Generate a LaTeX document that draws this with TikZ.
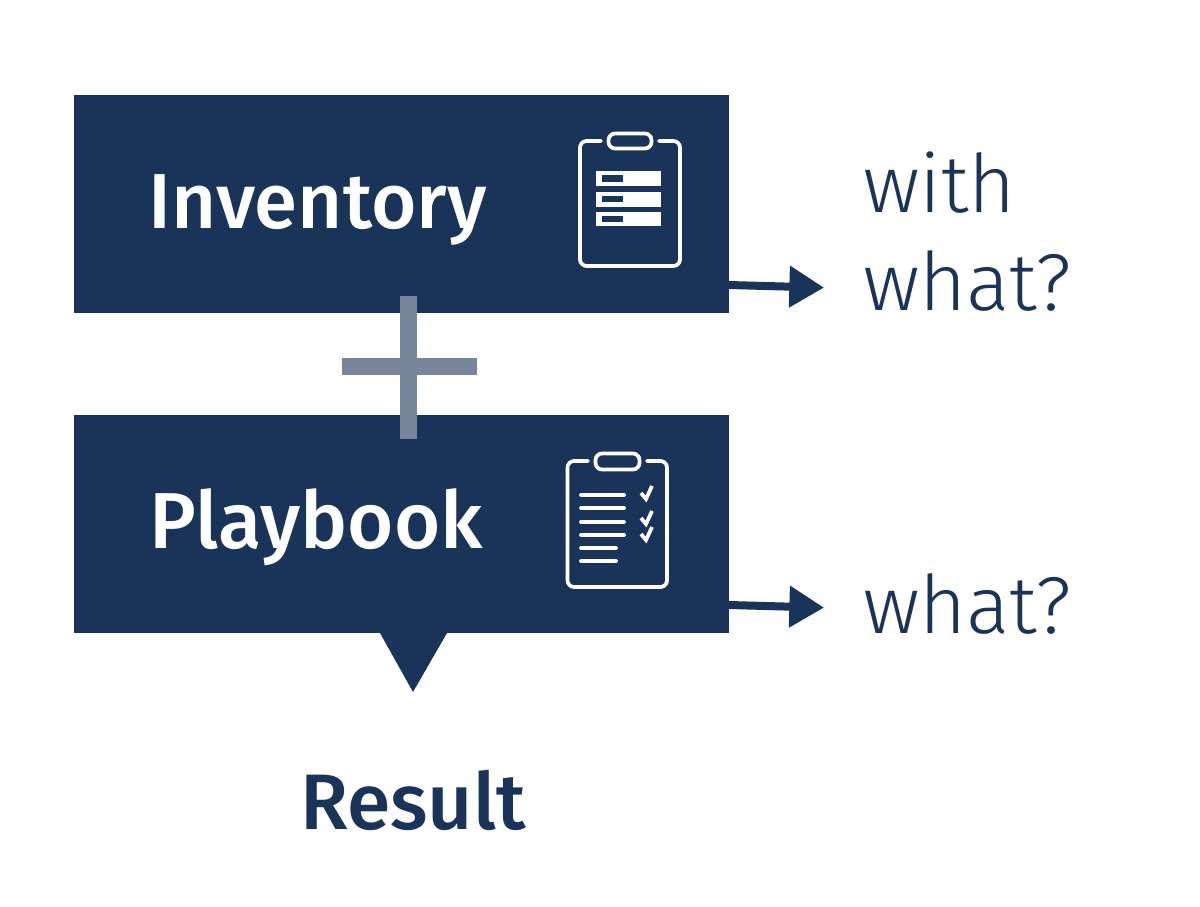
\documentclass[tikz,border=0pt]{standalone}
\usepackage{fontspec}
\usetikzlibrary{arrows.meta}
\setmainfont{Open Sans}
\newfontfamily\medf{Fira Sans Medium}
\newfontfamily\lightf{Fira Sans Light}
\definecolor{navy}{HTML}{1A3358}
\definecolor{plusgrey}{HTML}{78869C}
\tikzset{
  x=0.75pt,y=-0.75pt,
  box/.style={fill=navy,draw=none,minimum width=491.25pt,minimum height=163.5pt,inner sep=0pt,outer sep=0pt},
  title/.style={text=white,anchor=base west,inner sep=0pt,font=\fontsize{58.5}{59}\selectfont\medf},
  titlewide/.style={title,font=\fontsize{59.5}{60}\selectfont\medf},
  result/.style={text=navy,anchor=base west,inner sep=0pt,font=\fontsize{59}{59}\selectfont\medf},
  ask/.style={text=navy,anchor=base west,inner sep=0pt,font=\fontsize{60.5}{61}\selectfont\lightf},
  flow/.style={draw=navy,line width=6pt,-{Triangle[length=26pt,width=30pt]}},
  icon/.style={draw=white,line width=2.8pt,line cap=round,line join=round,fill=none,rounded corners=5pt},
  clipbar/.style={draw=white,line width=2.8pt,rounded corners=5pt,fill=none},
  rowline/.style={draw=white,line width=2.8pt,line cap=round},
  tick/.style={draw=white,line width=2.8pt,line join=miter},
}
\begin{document}
\begin{tikzpicture}
\useasboundingbox (0,0) rectangle (1200,907);
\node[box] (inventory) at (401.5,204) {};
\node[box] (playbook) at (401.5,524) {};
\fill[navy] (380,633) -- (447,633) -- (413,692) -- cycle;
% plus
\fill[plusgrey] (400,296) rectangle (417,439);
\fill[plusgrey] (342,358) rectangle (477,375);
% labels
\node[title] (tinv) at (148,228) {Inventory};
\node[titlewide] (tplay) at (149,548) {Playbook};
\node[result] (tres) at (300,829) {Result};
\node[ask] (twith) at (863,212) {with};
\node[ask] (twhat) at (863,310) {what?};
\node[ask] (twhatb) at (863,633) {what?};
% arrows
\coordinate (outa) at (729,285);
\coordinate (enda) at (824,287.6);
\coordinate (outb) at (729,605);
\coordinate (endb) at (824,607.6);
\draw[flow] (outa) -- (enda);
\draw[flow] (outb) -- (endb);
% icon 1
\draw[icon] (601,141) -- (580,141) -- (580,266) -- (680,266) -- (680,141) -- (659,141);
\draw[clipbar] (608.5,133.5) rectangle (651.5,148.5);
\foreach \t/\b/\it/\ib in {171/186/175/182,192/207/196/202,212/226/216/222}{
  \fill[white] (596,\t) rectangle (661,\b);
  \fill[navy] (602,\it) rectangle (623,\ib);
}
% icon 2
\draw[icon] (588,461) -- (567.5,461) -- (567.5,587) -- (667,587) -- (667,461) -- (647,461);
\draw[clipbar] (595.5,453.5) rectangle (639.5,469.5);
\foreach \y in {495,508,522,535}{\draw[rowline] (581,\y) -- (624,\y);}
\foreach \y in {548,561}{\draw[rowline] (581,\y) -- (616,\y);}
\foreach \y in {485,510,526}{
  \draw[tick] (641,\y+8) -- (646,\y+14) -- (652,\y+1);
}
\end{tikzpicture}
\end{document}
